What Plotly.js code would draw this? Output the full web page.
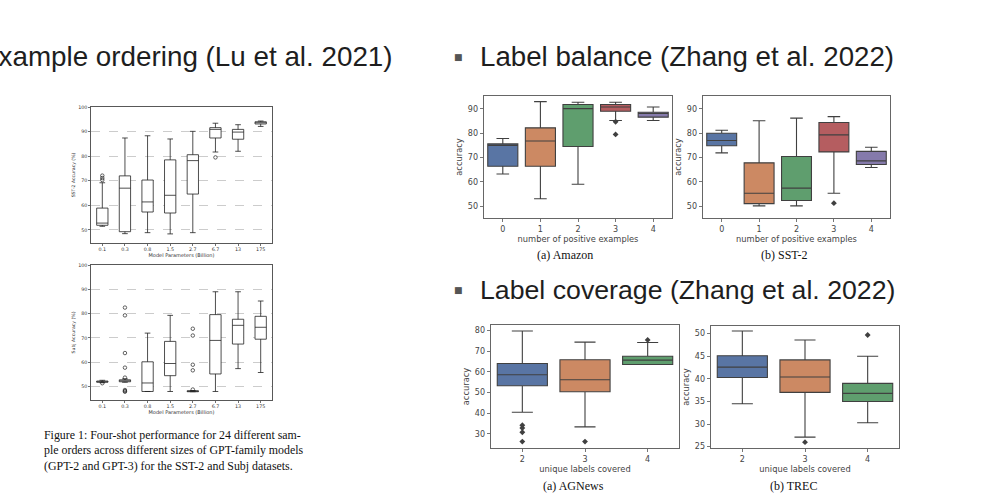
<!DOCTYPE html>
<html><head><meta charset="utf-8">
<script src="https://cdn.plot.ly/plotly-3.0.1.min.js"></script>
<style>html,body{margin:0;padding:0;background:#fff}#chart{width:1000px;height:500px}</style>
</head><body><div id="chart"></div>
<script>
// ---- Lu et al. 2021: SST-2 and Subj accuracy vs model size ----
const sizeCats = ["0.1","0.3","0.8","1.5","2.7","6.7","13","175"];
const sstQ1  = [51.9,49.3,57.3,56.9,64.6,87.4,86.9,93.1];
const sstMed = [52.8,67.0,61.4,64.1,78.2,90.9,89.8,93.6];
const sstQ3  = [58.9,72.0,70.3,78.5,80.6,91.6,90.9,94.0];
const sstLo  = [51.5,48.5,48.9,48.4,48.9,81.7,82.0,92.1];
const sstHi  = [69.2,87.4,88.3,87.0,90.1,93.4,92.8,94.3];
const sstOutX = ["0.1","0.1","0.1","6.7"];
const sstOutY = [70.3,71.1,72.1,79.5];

const subjQ1  = [51.8,52.0,48.0,54.5,47.9,55.2,67.5,69.5];
const subjMed = [52.0,52.3,51.5,59.5,48.1,69.0,75.2,74.4];
const subjQ3  = [52.3,52.8,60.2,68.6,48.3,79.6,77.7,78.9];
const subjLo  = [51.6,51.8,48.0,48.0,47.9,48.0,57.4,55.8];
const subjHi  = [52.6,53.2,72.0,79.3,48.4,89.0,89.0,85.2];
const subjOutX = ["0.1","0.3","0.3","0.3","0.3","0.3","0.3","0.3","0.3","2.7","2.7","2.7","2.7","2.7"];
const subjOutY = [51.4,82.5,79.3,63.8,57.8,53.7,48.6,48.2,47.9,73.8,71.0,59.0,56.7,48.8];

// ---- Zhang et al. 2022: label balance ----
const posCats = ["0","1","2","3","4"];
const amzQ1  = [66.4,66.4,74.5,89.0,86.6];
const amzMed = [75.0,76.8,90.1,90.8,88.1];
const amzQ3  = [75.6,82.2,91.8,91.8,88.6];
const amzLo  = [63.2,53.0,59.0,85.2,85.2];
const amzHi  = [77.8,93.0,92.7,92.7,90.8];
const amzOutX = ["3","3"];
const amzOutY = [84.7,79.5];

const sst2Q1  = [74.8,51.0,52.3,72.3,67.1];
const sst2Med = [77.0,55.3,57.4,79.3,68.6];
const sst2Q3  = [80.0,67.8,70.4,84.4,72.5];
const sst2Lo  = [71.9,50.1,50.1,55.3,65.9];
const sst2Hi  = [81.2,85.1,86.2,86.8,74.2];
const sst2OutX = ["3"];
const sst2OutY = [51.2];

// ---- Zhang et al. 2022: label coverage ----
const covCats = ["2","3","4"];
const agQ1  = [53.3,50.4,63.6];
const agMed = [58.6,56.2,65.7];
const agQ3  = [64.1,65.9,67.6];
const agLo  = [40.5,33.4,63.6];
const agHi  = [79.8,74.4,74.2];
const agOutX = ["2","2","2","2","3","4"];
const agOutY = [34.2,32.9,30.8,26.3,26.3,75.5];

const trQ1  = [40.3,37.0,35.0];
const trMed = [42.6,40.4,36.8];
const trQ3  = [45.1,44.2,39.0];
const trLo  = [34.5,27.1,30.3];
const trHi  = [50.6,48.6,45.0];
const trOutX = ["3","4"];
const trOutY = [26.0,49.7];

const palette = ["#5975a4","#cc8963","#5f9e6e","#b55d60","#857aab"];

const traces = [];
function mplPanel(ax, cats, q1, med, q3, lo, hi, ox, oy) {
  traces.push({type:'box', xaxis:'x'+ax, yaxis:'y'+ax, x:cats, q1:q1, median:med, q3:q3,
    lowerfence:lo, upperfence:hi, width:0.5, whiskerwidth:0.5, fillcolor:'#ffffff',
    line:{color:'#222', width:0.8}, boxpoints:false, showlegend:false, hoverinfo:'skip'});
  traces.push({type:'scatter', mode:'markers', xaxis:'x'+ax, yaxis:'y'+ax, x:ox, y:oy,
    marker:{symbol:'circle-open', size:3.5, color:'#222', line:{width:0.7}}, showlegend:false, hoverinfo:'skip'});
}
function snsPanel(ax, cats, q1, med, q3, lo, hi, ox, oy) {
  cats.forEach((c,i)=>{
    traces.push({type:'box', xaxis:'x'+ax, yaxis:'y'+ax, x:[c], q1:[q1[i]], median:[med[i]], q3:[q3[i]],
      lowerfence:[lo[i]], upperfence:[hi[i]], width:0.8, whiskerwidth:0.42, fillcolor:palette[i],
      line:{color:'#404040', width:1.1}, boxpoints:false, showlegend:false, hoverinfo:'skip'});
  });
  traces.push({type:'scatter', mode:'markers', xaxis:'x'+ax, yaxis:'y'+ax, x:ox, y:oy,
    marker:{symbol:'diamond', size:4.5, color:'#404040'}, showlegend:false, hoverinfo:'skip'});
}
mplPanel('', sizeCats, sstQ1, sstMed, sstQ3, sstLo, sstHi, sstOutX, sstOutY);
mplPanel('2', sizeCats, subjQ1, subjMed, subjQ3, subjLo, subjHi, subjOutX, subjOutY);
snsPanel('3', posCats, amzQ1, amzMed, amzQ3, amzLo, amzHi, amzOutX, amzOutY);
snsPanel('4', posCats, sst2Q1, sst2Med, sst2Q3, sst2Lo, sst2Hi, sst2OutX, sst2OutY);
snsPanel('5', covCats, agQ1, agMed, agQ3, agLo, agHi, agOutX, agOutY);
snsPanel('6', covCats, trQ1, trMed, trQ3, trLo, trHi, trOutX, trOutY);

const PX = v => v/1000, PY = v => 1 - v/500;
const DV = 'DejaVu Sans, sans-serif';

function mplX(anchor, x0, x1, n, title) {
  return {domain:[PX(x0),PX(x1)], anchor:anchor, type:'category', range:[-0.5,n-0.5],
    showline:true, mirror:true, linecolor:'#111', linewidth:0.7, showgrid:false, zeroline:false,
    ticks:'outside', ticklen:2, tickwidth:0.6, tickcolor:'#111',
    tickfont:{family:DV, size:4.8, color:'#333'},
    title:{text:title, font:{family:DV, size:5, color:'#333'}, standoff:1}};
}
function mplY(anchor, y0, y1, range, title) {
  return {domain:[PY(y1),PY(y0)], anchor:anchor, range:range, tickvals:[50,60,70,80,90,100],
    showline:true, mirror:true, linecolor:'#111', linewidth:0.7, zeroline:false,
    showgrid:true, gridcolor:'#aaa', gridwidth:0.6, griddash:'dash',
    ticks:'outside', ticklen:2, tickwidth:0.6, tickcolor:'#111',
    tickfont:{family:DV, size:4.8, color:'#333'},
    title:{text:title, font:{family:DV, size:4.6, color:'#333'}, standoff:2}};
}
function snsX(anchor, x0, x1, n, title) {
  return {domain:[PX(x0),PX(x1)], anchor:anchor, type:'category', range:[-0.5,n-0.5],
    showline:true, mirror:true, linecolor:'#555', linewidth:0.9, showgrid:false, zeroline:false,
    ticks:'outside', ticklen:3.5, tickwidth:0.8, tickcolor:'#555',
    tickfont:{family:DV, size:8, color:'#444'},
    title:{text:title, font:{family:DV, size:8.3, color:'#444'}, standoff:2}};
}
function snsY(anchor, y0, y1, range, tv, title) {
  return {domain:[PY(y1),PY(y0)], anchor:anchor, range:range, tickvals:tv,
    showline:true, mirror:true, linecolor:'#555', linewidth:0.9, showgrid:false, zeroline:false,
    ticks:'outside', ticklen:3.5, tickwidth:0.8, tickcolor:'#555',
    tickfont:{family:DV, size:8, color:'#444'},
    title:{text:title, font:{family:DV, size:8.3, color:'#444'}, standoff:3}};
}

const serif = 'Liberation Serif, Times New Roman, serif';
const sans = 'Liberation Sans, Arial, sans-serif';
function head(text, x, y, anchor, size) {
  return {xref:'paper', yref:'paper', x:PX(x), y:PY(y), xanchor:anchor, yanchor:'middle',
    text:text, showarrow:false, font:{family:sans, size:size, color:'#1e1e1e'}};
}
function bullet(x, y) {
  return {xref:'paper', yref:'paper', x:PX(x), y:PY(y), xanchor:'center', yanchor:'middle',
    text:'■', showarrow:false, font:{family:'DejaVu Sans', size:9, color:'#555'}};
}
function cap(text, x, y) {
  return {xref:'paper', yref:'paper', x:PX(x), y:PY(y), xanchor:'center', yanchor:'middle',
    text:text, showarrow:false, font:{family:serif, size:12, color:'#111'}};
}

const layout = {
  width:1000, height:500, margin:{l:0,r:0,t:0,b:0}, paper_bgcolor:'#fff', plot_bgcolor:'#fff',
  showlegend:false, boxmode:'overlay',
  xaxis:  mplX('y', 91, 272, 8, 'Model Parameters (Billion)'),
  yaxis:  mplY('x', 107, 243, [44.7,100], 'SST-2 Accuracy (%)'),
  xaxis2: mplX('y2', 91, 272, 8, 'Model Parameters (Billion)'),
  yaxis2: mplY('x2', 265, 400, [44.5,100], 'Subj Accuracy (%)'),
  xaxis3: snsX('y3', 484, 672, 5, 'number of positive examples'),
  yaxis3: snsY('x3', 96, 218, [45.1,95.3], [50,60,70,80,90], 'accuracy'),
  xaxis4: snsX('y4', 703, 890, 5, 'number of positive examples'),
  yaxis4: snsY('x4', 96, 218, [45.1,95.3], [50,60,70,80,90], 'accuracy'),
  xaxis5: snsX('y5', 491, 679, 3, 'unique labels covered'),
  yaxis5: snsY('x5', 325, 448, [23.2,82.7], [30,40,50,60,70,80], 'accuracy'),
  xaxis6: snsX('y6', 711, 899, 3, 'unique labels covered'),
  yaxis6: snsY('x6', 326, 448, [24.7,51.7], [25,30,35,40,45,50], 'accuracy'),
  annotations: [
    head('Example ordering (Lu et al. 2021)', 395, 57, 'right', 27.8),
    bullet(458.5, 57),
    head('Label balance (Zhang et al. 2022)', 478, 57, 'left', 27.7),
    bullet(458.5, 290),
    head('Label coverage (Zhang et al. 2022)', 478, 290, 'left', 26.7),
    cap('(a) Amazon', 565, 255),
    cap('(b) SST-2', 784, 255),
    cap('(a) AGNews', 573, 486),
    cap('(b) TREC', 793, 486),
    {xref:'paper', yref:'paper', x:PX(42), y:PY(426), xanchor:'left', yanchor:'top', align:'left',
     showarrow:false, font:{family:serif, size:11.9, color:'#111'},
     text:'Figure 1: Four-shot performance for 24 different sam-<br>ple orders across different sizes of GPT-family models<br>(GPT-2 and GPT-3) for the SST-2 and Subj datasets.'}
  ]
};
Plotly.newPlot('chart', traces, layout, {staticPlot:true, displayModeBar:false});
</script></body></html>
